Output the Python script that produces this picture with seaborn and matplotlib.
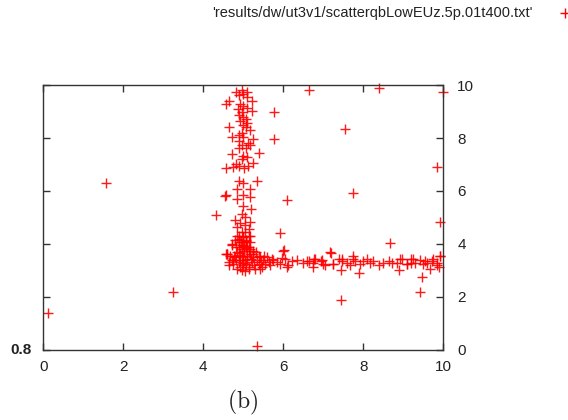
import matplotlib
matplotlib.use("Agg")
import matplotlib.pyplot as plt
import seaborn as sns
import pandas as pd

# Isolated points scattered over the plane
outlier_x = [0.12, 1.58, 3.25, 4.31, 5.33, 6.65, 8.40, 9.98, 5.77, 5.76, 7.54, 5.40,
             5.33, 6.08, 7.73, 9.85, 9.92, 5.91, 8.67, 7.17, 9.46, 9.42, 7.43, 6.02, 4.56]
outlier_y = [1.40, 6.30, 2.20, 5.08, 0.15, 9.83, 9.88, 9.75, 9.00, 7.98, 8.34, 7.45,
             6.36, 5.65, 5.91, 6.89, 4.82, 4.41, 4.03, 3.71, 2.77, 2.19, 1.90, 3.76, 5.84]

# Upper part of the vertical branch near x = 5
upper_x = [4.82, 4.96, 5.08, 4.98, 4.90, 5.08, 5.21, 4.63, 4.57, 4.92, 4.99, 5.10,
           4.87, 5.21, 4.97, 4.88, 4.99, 5.07, 4.92, 5.10, 4.99, 4.65, 5.07, 5.16,
           4.97, 4.88, 4.71, 4.99, 5.24, 4.88, 5.12, 4.97, 4.88, 5.07, 5.16, 4.72,
           4.99, 5.10, 4.97, 5.24, 5.12, 4.57, 4.73, 4.90, 5.02, 4.81]
upper_y = [9.72, 9.81, 9.72, 9.65, 9.62, 9.55, 9.40, 9.40, 9.29, 9.27, 9.21, 9.15,
           9.10, 9.03, 8.97, 8.86, 8.78, 8.71, 8.66, 8.58, 8.50, 8.40, 8.40, 8.30,
           8.20, 8.12, 8.02, 8.02, 7.97, 7.90, 7.82, 7.72, 7.62, 7.62, 7.72, 7.38,
           7.31, 7.27, 7.20, 7.05, 6.95, 6.85, 6.92, 6.95, 6.88, 7.02]

# Lower part of the vertical branch
lower_x = [4.90, 4.98, 4.83, 5.17, 4.54, 4.98, 5.17, 4.83, 5.00, 5.18, 4.96, 5.04,
           4.79, 4.92, 5.17, 5.04, 4.83, 5.13, 4.96, 4.88, 5.13, 4.99, 4.79, 5.06,
           4.90, 5.17, 4.71, 4.99, 4.82, 5.07, 5.24, 4.60, 5.99, 4.77, 4.83, 5.04,
           5.17, 4.88, 5.07, 4.96, 5.13]
lower_y = [6.39, 6.29, 6.08, 6.08, 5.83, 5.86, 5.79, 5.70, 5.45, 5.33, 5.14, 5.01,
           4.91, 4.79, 4.82, 4.70, 4.64, 4.58, 4.45, 4.32, 4.32, 4.26, 4.16, 4.14,
           4.07, 4.07, 3.98, 3.98, 3.88, 3.85, 3.75, 3.62, 3.75, 3.56, 4.29, 4.45,
           4.29, 4.14, 4.08, 3.96, 3.88]

# Dense cluster at the corner of the L
corner_x = [4.56, 4.71, 4.67, 4.79, 4.73, 4.65, 4.83, 4.88, 4.92, 4.92, 5.00, 5.02,
            5.07, 5.08, 5.13, 5.17, 5.21, 5.25, 5.27, 5.32, 5.33, 5.38, 5.42, 5.46,
            5.50, 5.54, 5.58, 5.63, 5.67, 5.71, 4.96, 5.04, 4.83, 4.75, 4.88, 4.96,
            4.98, 5.04, 5.10, 5.15, 5.18, 4.92, 4.97, 5.02, 5.08, 5.13, 5.17, 4.88,
            4.82, 4.71, 4.63, 5.00, 5.29, 5.42, 5.23, 5.38, 5.52, 5.43, 4.93, 5.06,
            5.00, 4.88, 4.59]
corner_y = [3.63, 4.00, 3.56, 3.50, 3.25, 3.19, 3.69, 3.88, 3.38, 3.15, 3.56, 3.75,
            3.25, 3.44, 3.06, 3.63, 3.31, 3.50, 3.19, 3.69, 3.38, 3.25, 3.50, 3.13,
            3.38, 3.25, 3.50, 3.31, 3.19, 3.44, 3.00, 2.98, 3.06, 3.40, 3.31, 3.50,
            3.19, 3.38, 3.56, 3.15, 3.44, 3.65, 3.81, 3.94, 3.88, 3.75, 3.81, 3.60,
            3.38, 3.38, 3.31, 3.27, 3.06, 3.06, 3.63, 3.56, 3.56, 3.31, 4.06, 4.13,
            4.25, 4.19, 3.61]

# Horizontal branch near y = 3.3
band_x = [5.75, 5.83, 5.92, 5.96, 6.04, 6.08, 6.12, 6.21, 6.33, 6.50, 6.58, 6.63,
          6.74, 6.75, 6.77, 6.79, 6.93, 6.96, 6.99, 7.04, 7.18, 7.25, 7.25, 7.38,
          7.43, 7.46, 7.46, 7.58, 7.66, 7.75, 7.75, 7.80, 7.88, 7.92, 8.00, 8.08,
          8.17, 8.25, 8.38, 8.50, 8.63, 8.72, 8.83, 8.90, 8.92, 8.96, 9.08, 9.09,
          9.20, 9.20, 9.25, 9.30, 9.42, 9.50, 9.55, 9.58, 9.67, 9.71, 9.75, 9.84,
          9.85, 9.88, 9.92, 9.92]
band_y = [3.38, 3.31, 3.25, 3.48, 3.44, 3.15, 3.19, 3.35, 3.40, 3.28, 3.36, 3.35,
          3.30, 3.13, 3.44, 3.45, 3.36, 3.38, 3.26, 3.19, 3.67, 3.26, 3.25, 3.45,
          3.00, 3.36, 3.44, 3.30, 3.19, 3.45, 3.56, 3.36, 2.91, 3.26, 3.36, 3.45,
          3.30, 3.36, 3.19, 3.30, 3.36, 3.30, 3.30, 3.03, 3.45, 3.45, 3.24, 3.26,
          3.28, 3.45, 3.45, 3.30, 3.38, 3.26, 3.36, 3.28, 3.07, 3.35, 3.45, 3.30,
          3.21, 3.15, 3.53, 3.56]

xs = outlier_x + upper_x + lower_x + corner_x + band_x
ys = outlier_y + upper_y + lower_y + corner_y + band_y
df = pd.DataFrame({"x": xs, "y": ys})

x_ticks = [0, 2, 4, 6, 8, 10]
y_ticks = [0, 2, 4, 6, 8, 10]
left_corner_label = "0.8"
legend_label = "'results/dw/ut3v1/scatterqbLowEUz.5p.01t400.txt'"
panel_label = "(b)"

sns.set_theme(style="white")
plt.rcParams["font.family"] = ["Liberation Sans", "DejaVu Sans"]
plt.rcParams["mathtext.fontset"] = "cm"

fig = plt.figure(figsize=(5.68, 4.20), dpi=100)
ax = fig.add_axes([0.0762, 0.1667, 0.7043, 0.6309])

sns.scatterplot(data=df, x="x", y="y", marker="+", color="red", edgecolor="red",
                s=45, linewidth=1.0, ax=ax, legend=False, alpha=0.9, clip_on=False)

ax.set_xlim(0, 10)
ax.set_ylim(0, 10)
ax.set_xticks(x_ticks)
ax.set_yticks(y_ticks)
ax.set_xticklabels([str(v) for v in x_ticks])
ax.set_yticklabels([str(v) for v in y_ticks])
ax.set_xlabel("")
ax.set_ylabel("")

for side in ["left", "right", "top", "bottom"]:
    ax.spines[side].set_visible(True)
    ax.spines[side].set_color("#333333")
    ax.spines[side].set_linewidth(1.0)

ax.tick_params(axis="x", direction="in", length=5, width=1.0, color="#333333",
               top=True, bottom=True, labeltop=False, labelbottom=True,
               labelsize=11, pad=7, labelcolor="#222222")
ax.tick_params(axis="y", direction="in", length=5, width=1.0, color="#333333",
               left=True, right=True, labelleft=False, labelright=True,
               labelsize=11, pad=10, labelcolor="#222222")

# Crowded left-axis label at the origin
fig.text(32 / 568, 1 - 350 / 420, left_corner_label, ha="right", va="center",
         fontsize=11, fontweight="bold", color="#222222")

# Key line above the plot
fig.text(533 / 568, 1 - 13 / 420, legend_label, ha="right", va="center",
         fontsize=10.5, color="#222222")
fig.lines.append(plt.Line2D([565 / 568], [1 - 13 / 420], marker="+", color="red",
                            markersize=7, markeredgewidth=1.0, linestyle="none",
                            transform=fig.transFigure, figure=fig))

fig.text(243 / 568, 1 - 402 / 420, r"$\mathrm{" + panel_label + "}$",
         ha="center", va="center", fontsize=17, color="#222222")

fig.savefig("out.png", dpi=100)
